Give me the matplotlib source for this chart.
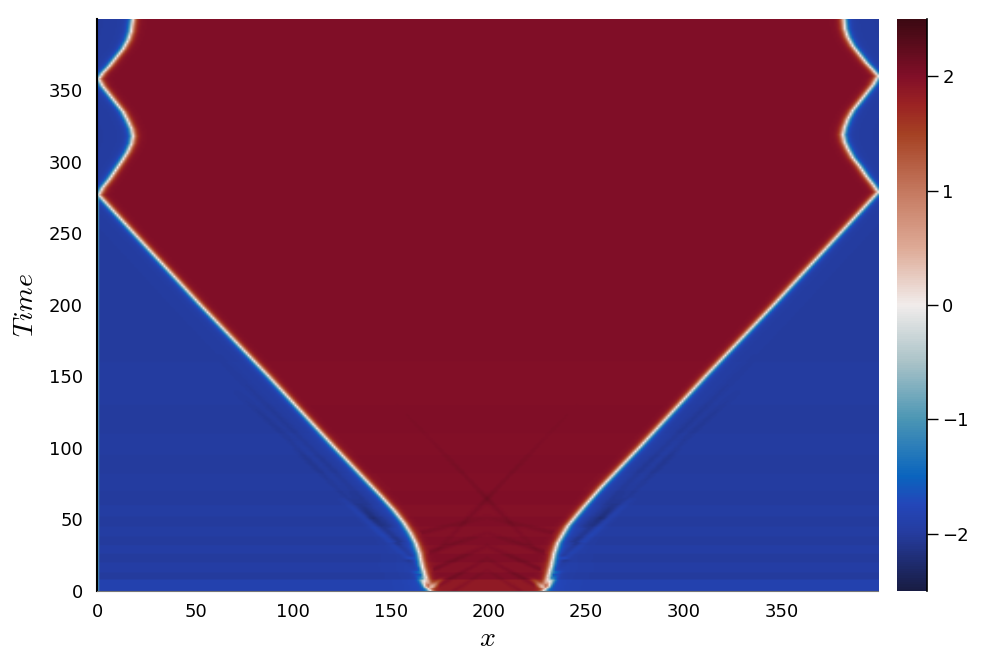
import numpy as np
import matplotlib
matplotlib.use('Agg')
import matplotlib.pyplot as plt
from matplotlib.colors import LinearSegmentedColormap

# front positions
left_t = [0, 2, 17, 26, 33, 40, 47, 56, 66, 81, 100, 150, 200, 250, 276, 281, 287, 294, 300, 306, 312, 317, 322, 328,
          334, 340, 346, 352, 357, 361, 366, 372, 378, 384, 390, 399]
left_x = [170, 169.5, 166, 164.6, 162.7, 160, 156.7, 151.5, 144.8, 134.3, 121, 87, 52, 18, 0.5, 2.5, 6, 9.5, 12.5, 15.3,
          17.3, 18, 17.3, 15.3, 13, 9.5, 6, 2.5, 0.5, 2.5, 6, 9.5, 13, 15.5, 17, 18]
right_t = [0, 2, 17, 26, 33, 40, 45, 58, 72, 100, 150, 200, 250, 278, 283, 289, 296, 302, 308, 313, 318, 323, 329, 335,
           341, 347, 353, 359, 363, 368, 374, 380, 386, 392, 399]
right_x = [228, 228.5, 231.7, 233.2, 235, 238, 240.2, 248.2, 257.3, 277, 311, 346, 380, 399, 396.5, 393, 389.5, 386, 383.5,
           381.8, 381, 381.8, 383.5, 386, 389.5, 393, 396.5, 399, 396.5, 393, 389.5, 386, 383.5, 382, 381.5]

# horizontal bands: start of band, how far the field drops towards zero
band_t = [0, 8, 13, 20, 26, 32, 38, 45, 52, 60, 70, 82, 95, 110, 130, 160, 200]
band_v = [0.075, 0.0, 0.03, 0.0, 0.025, 0.0, 0.02, 0.0, 0.015, 0.0, 0.012, 0.0, 0.01, 0.0, 0.006, 0.0, 0.0]

# wake streaks in the blue part, left side: x0, t0, x1, t1, strength
wake_x0 = [166, 164, 160, 155, 150, 164, 159, 151]
wake_t0 = [8, 14, 24, 34, 44, 12, 22, 34]
wake_x1 = [134, 128, 100, 70, 60, 140, 125, 100]
wake_t1 = [61, 65, 100, 140, 165, 50, 65, 105]
wake_amp = [-0.28, -0.2, -0.14, -0.1, -0.08, 0.34, 0.26, 0.14]

# short white fork at the foot of each front: x0, t0, x1, t1, strength
fork_x0 = [169.5, 169.5]
fork_t0 = [1, 1]
fork_x1 = [161, 177]
fork_t1 = [15, 10]
fork_amp = [2.0, -1.6]

# chevrons in the red part: height at the centre, steepness, strength
chev_t = [14, 22, 31, 40, 51]
chev_k = [0.85, 0.75, 0.6, 0.45, 0.32]
chev_amp = [0.14, 0.16, 0.15, 0.12, 0.09]

# colour bar anchors
cb_v = [-2.5, -2.0, -1.75, -1.5, -1.0, -0.5, 0.0, 0.5, 1.0, 1.5, 1.75, 2.0, 2.5]
cb_c = ['#181c43', '#253c9f', '#2346b9', '#0a64be', '#4b96b4', '#aac3c8', '#f1eceb',
        '#deaa96', '#c4785f', '#a54123', '#9b2323', '#820f28', '#3c0912']

x_ticks = [0, 50, 100, 150, 200, 250, 300, 350]
y_ticks = [0, 50, 100, 150, 200, 250, 300, 350]
cb_ticks = [-2, -1, 0, 1, 2]
cb_labels = ['\u22122', '\u22121', '0', '1', '2']

x = np.arange(0, 400)
t = np.arange(0, 400)
X, T = np.meshgrid(x, t)

L = np.interp(t, left_t, left_x)[:, None]
R = np.interp(t, right_t, right_x)[:, None]
w = 2.2
phi = -2 + 2 * (np.tanh((X - L) / w) - np.tanh((X - R) / w))

# bands pull both sides a little towards zero
band = np.array(band_v)[np.searchsorted(band_t, t, side='right') - 1]
phi = phi * (1 - band[:, None])

# lighter blue just outside the fronts, stronger near the foot
strength = 0.1 + 0.2 * np.exp(-T / 60)
phi = phi + strength * np.exp(-np.clip(L - X, 0, None) / 6) * (X < L)
phi = phi + strength * np.exp(-np.clip(X - R, 0, None) / 6) * (X > R)


def streak(x0, t0, x1, t1, width, p=0.5):
    c = x0 + (T - t0) * (x1 - x0) / (t1 - t0)
    s = np.clip((T - t0) / (t1 - t0), 0, 1)
    on = (T >= t0) & (T <= t1)
    return np.exp(-((X - c) / width) ** 2) * on * (1 - s) ** p


for x0, t0, x1, t1, a in zip(wake_x0, wake_t0, wake_x1, wake_t1, wake_amp):
    phi = phi + a * streak(x0, t0, x1, t1, 2.5) * (X < L - 2)
    phi = phi + a * streak(398 - x0, t0, 398 - x1, t1, 2.5) * (X > R + 2)

for x0, t0, x1, t1, a in zip(fork_x0, fork_t0, fork_x1, fork_t1, fork_amp):
    phi = phi + a * streak(x0, t0, x1, t1, 2.0, 1.5)
    phi = phi + a * streak(398 - x0, t0, 398 - x1, t1, 2.0, 1.5)

inside = (X > L + 5) & (X < R - 5)
for tc, k, a in zip(chev_t, chev_k, chev_amp):
    line = tc - k * np.abs(X - 199)
    edge = 0.3 + 0.7 * np.abs(X - 199) / 30
    phi = phi + a * edge * np.exp(-((T - line) / 1.8) ** 2) * inside

# diagonal crossing behind the fronts
for sign in [-1, 1]:
    c = 199 + sign * (T - 64) * 0.7
    fade = np.clip(1 - np.abs(T - 64) / 70, 0, 1)
    phi = phi + 0.08 * fade * np.exp(-((X - c) / 1.8) ** 2) * (T > 25) * inside

phi[:, 0] = np.where(t < 275, -1.0, phi[:, 0])

cmap = LinearSegmentedColormap.from_list(
    'balance', [((v + 2.5) / 5, c) for v, c in zip(cb_v, cb_c)], N=256)

fig = plt.figure(figsize=(9.97, 6.64), dpi=100)
W, H = 997, 664
ax = fig.add_axes([97 / W, (H - 591) / H, (878 - 97) / W, (591 - 19) / H])
im = ax.imshow(phi, origin='lower', aspect='auto', cmap=cmap, vmin=-2.5, vmax=2.5,
               extent=[-0.5, 399.5, 0, 399.7], interpolation='bilinear')
ax.set_xlim(-0.5, 399.5)
ax.set_ylim(0, 399.7)
ax.set_xticks(x_ticks)
ax.set_yticks(y_ticks)
ax.tick_params(axis='x', length=0, labelsize=13, pad=8.5)
ax.tick_params(axis='y', length=0, labelsize=13, pad=10)
ax.spines['top'].set_visible(False)
ax.spines['right'].set_visible(False)
ax.spines['left'].set_linewidth(1.5)
ax.spines['bottom'].set_color('#777777')
ax.spines['bottom'].set_linewidth(0.8)
ax.set_xlabel('$x$', fontsize=20, labelpad=2, math_fontfamily='cm')
ax.set_ylabel('$Time$', fontsize=20, labelpad=7, math_fontfamily='cm')

cax = fig.add_axes([897 / W, (H - 591) / H, 30 / W, (591 - 19) / H])
cb = fig.colorbar(im, cax=cax)
cb.set_ticks(cb_ticks)
cb.set_ticklabels(cb_labels)
cb.ax.tick_params(length=8, width=1, labelsize=13, pad=3)
cb.outline.set_visible(False)
cb.ax.spines['right'].set_visible(True)
cb.ax.spines['right'].set_linewidth(1.2)

fig.savefig('out.png', dpi=100)
